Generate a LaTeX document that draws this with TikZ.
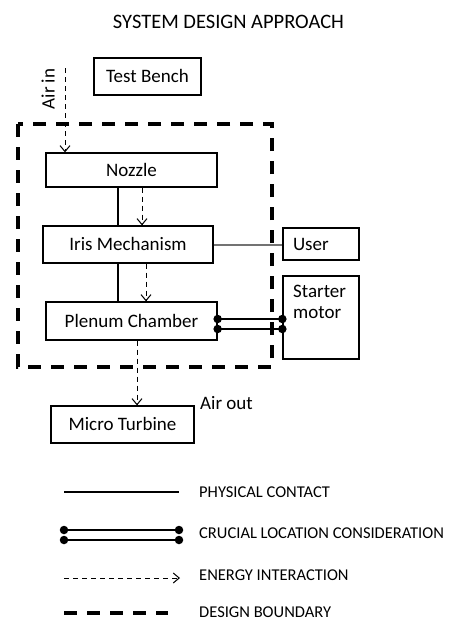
\documentclass[tikz,border=0pt]{standalone}
\usepackage{fontspec}
\setmainfont{Carlito}
\usetikzlibrary{arrows.meta,calc}
\begin{document}
\begin{tikzpicture}[x=1pt,y=-1pt,
  box/.style={draw, line width=1.3pt, inner sep=0pt, font=\fontsize{19}{22}\selectfont, text height=12pt, text depth=0pt},
  phys/.style={line width=1.3pt},
  energy/.style={line width=1pt, dash pattern=on 5pt off 4pt, -{Straight Barb[length=6pt,width=10pt]}},
  boundary/.style={line width=3.5pt, dash pattern=on 13pt off 10pt},
  crucial/.style={line width=1.3pt},
  dotc/.style={circle, fill=black, inner sep=0pt, minimum size=8.5pt},
  legtext/.style={anchor=west, inner sep=0pt, font=\fontsize{16.5}{19}\selectfont, text height=11pt, text depth=0pt},
  lbl/.style={inner sep=0pt, font=\fontsize{19}{22}\selectfont}
]
\useasboundingbox (0,0) rectangle (454,622);

% title
\node[inner sep=0pt, font=\fontsize{20.5}{24}\selectfont, text height=13pt, text depth=0pt] (title) at (228.5,22) {SYSTEM DESIGN APPROACH};

% boxes
\node[box, minimum width=107pt, minimum height=37pt] (bench) at (147.5,76.5) {Test Bench};
\node[box, minimum width=171pt, minimum height=34pt] (nozzle) at (131.5,170) {Nozzle};
\node[box, minimum width=170pt, minimum height=37pt] (iris) at (128,244.5) {Iris Mechanism};
\node[box, minimum width=76pt, minimum height=32pt, text width=56pt, inner xsep=10pt, align=left] (user) at (321,244) {User};
\node[box, minimum width=171pt, minimum height=38pt] (plenum) at (131.5,321) {Plenum Chamber};
\node[box, minimum width=76pt, minimum height=83pt] (starter) at (321,317.5) {};
\node[lbl, anchor=north west, align=left] (startertext) at (293,285) {Starter\\[-1pt]motor};
\node[box, minimum width=143pt, minimum height=37pt] (turbine) at (122.5,424.5) {Micro Turbine};

% design boundary
\draw[boundary] (18,124) rectangle (272,367);

% air in
\coordinate (airin) at (65,68);
\node[lbl, rotate=90] (airinlbl) at (48,89) {Air in};
\draw[energy] (airin) -- (airin |- nozzle.north);

% nozzle -> iris
\draw[phys] ([xshift=-13.5pt]nozzle.south) -- ([xshift=-13.5pt]nozzle.south |- iris.north);
\draw[energy] ([xshift=10.5pt]nozzle.south) -- ([xshift=10.5pt]nozzle.south |- iris.north);

% iris -> plenum
\draw[phys] ([xshift=-10pt]iris.south) -- ([xshift=-10pt]iris.south |- plenum.north);
\draw[energy] ([xshift=18pt]iris.south) -- ([xshift=18pt]iris.south |- plenum.north);

% iris - user
\draw[line width=2pt, black!55] (iris.east) -- (iris.east -| user.west);

% plenum = starter
\coordinate (pa) at ([yshift=2pt]plenum.east);
\coordinate (pb) at ([yshift=-8pt]plenum.east);
\draw[crucial] (pa) -- (pa -| starter.west);
\draw[crucial] (pb) -- (pb -| starter.west);
\node[dotc] at (pa) {};
\node[dotc] at (pb) {};
\node[dotc] at (pa -| starter.west) {};
\node[dotc] at (pb -| starter.west) {};

% plenum -> turbine
\draw[energy] ([xshift=5.5pt]plenum.south) -- ([xshift=5.5pt]plenum.south |- turbine.north);
\node[lbl, anchor=west] (airout) at (200,403) {Air out};

% legend
\coordinate (l1a) at (64,492); \coordinate (l1b) at (179,492);
\draw[phys] (l1a) -- (l1b);
\node[legtext] (t1) at (199,492) {PHYSICAL CONTACT};

\coordinate (l2a) at (64,530); \coordinate (l2b) at (179,530);
\coordinate (l3a) at (64,540); \coordinate (l3b) at (179,540);
\draw[crucial] (l2a) -- (l2b);
\draw[crucial] (l3a) -- (l3b);
\node[dotc] at (l2a) {}; \node[dotc] at (l2b) {};
\node[dotc] at (l3a) {}; \node[dotc] at (l3b) {};
\node[legtext] (t2) at (199,533) {CRUCIAL LOCATION CONSIDERATION};

\coordinate (l4a) at (64,578); \coordinate (l4b) at (180,578);
\draw[energy] (l4a) -- (l4b);
\node[legtext] (t3) at (199,575) {ENERGY INTERACTION};

\coordinate (l5a) at (64,613); \coordinate (l5b) at (168,613);
\draw[boundary] (l5a) -- (l5b);
\node[legtext] (t4) at (199,612) {DESIGN BOUNDARY};
\end{tikzpicture}
\end{document}
